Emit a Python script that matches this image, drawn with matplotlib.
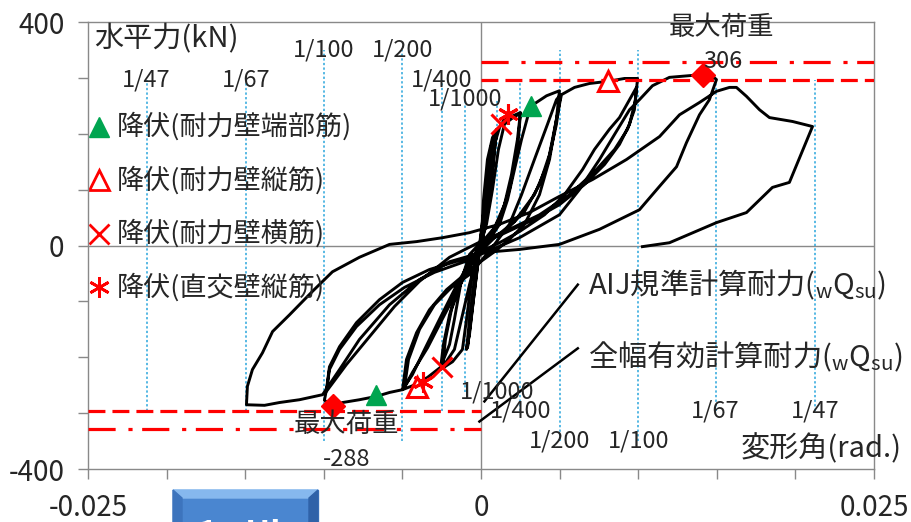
import numpy as np
import matplotlib
matplotlib.use('Agg')
import matplotlib.pyplot as plt
from matplotlib.patches import Rectangle, Polygon

plt.rcParams['font.family'] = ['Noto Sans CJK JP', 'DejaVu Sans']
plt.rcParams['mathtext.fontset'] = 'custom'
plt.rcParams['mathtext.rm'] = 'Noto Sans CJK JP'
plt.rcParams['mathtext.it'] = 'Noto Sans CJK JP'
plt.rcParams['mathtext.bf'] = 'Noto Sans CJK JP'
plt.rcParams['mathtext.default'] = 'regular'

# 変形角 (rad) / 水平力 (kN), loading history split by target drift
cyc1000_x = [0.0, 0.00016, 0.00041, 0.00073, 0.00099, 0.00080, 0.00048, 0.00016, -0.00016, -0.00048,
             -0.00073, -0.00092, -0.00073, -0.00041, -0.00016, 0.00010, 0.00035, 0.00067, 0.00099, 0.00073,
             0.00029, -0.00010, -0.00048, -0.00086, -0.00060, -0.00029]
cyc1000_y = [0, 82, 154, 193, 208, 154, 82, 20, -25, -97,
             -159, -186, -132, -61, -16, 38, 118, 181, 204, 136,
             55, -7, -97, -183, -115, -43]

cyc400_x = [0.00003, 0.00041, 0.00086, 0.00118, 0.00149, 0.00194, 0.00251, 0.00232, 0.00194, 0.00149,
            0.00086, 0.00022, -0.00022, -0.00060, -0.00092, -0.00118, -0.00181, -0.00258, -0.00239, -0.00200,
            -0.00149, -0.00099, -0.00041, -0.00003, 0.00035, 0.00073, 0.00111, 0.00149, 0.00213, 0.00251,
            0.00232, 0.00181, 0.00118, 0.00041, -0.00022, -0.00073, -0.00124, -0.00169, -0.00245]
cyc400_y = [29, 109, 181, 211, 226, 231, 238, 190, 127, 73,
            32, 11, -11, -61, -132, -186, -208, -222, -177, -124,
            -79, -43, -16, 2, 38, 100, 172, 217, 231, 236,
            172, 100, 47, 11, -16, -70, -132, -186, -218]

cyc200_x = [-0.00226, -0.00188, -0.00124, -0.00060, -0.00003, 0.00054, 0.00118, 0.00169, 0.00213, 0.00258,
            0.00315, 0.00417, 0.00499, 0.00480, 0.00436, 0.00372, 0.00277, 0.00149, 0.00022, -0.00073,
            -0.00169, -0.00264, -0.00359, -0.00436, -0.00499, -0.00474, -0.00410, -0.00328, -0.00219, -0.00118,
            -0.00003, 0.00086, 0.00181, 0.00258, 0.00340, 0.00423, 0.00480, 0.00506, 0.00480, 0.00423,
            0.00340, 0.00213, 0.00086, -0.00022, -0.00124, -0.00232, -0.00340, -0.00436, -0.00487, -0.00461,
            -0.00391, -0.00296, -0.00188, -0.00073]
cyc200_y = [-168, -115, -64, -29, -7, 11, 38, 82, 136, 190,
            249, 268, 277, 226, 163, 109, 61, 25, 4, -29,
            -79, -132, -186, -231, -258, -204, -156, -115, -79, -55,
            -29, 2, 38, 91, 154, 217, 261, 270, 217, 145,
            91, 43, 14, -16, -66, -124, -183, -227, -254, -204,
            -150, -106, -75, -52]

cyc100a_x = [-0.00003, 0.00086, 0.00181, 0.00277, 0.00372, 0.00436, 0.00480, 0.00512, 0.00595, 0.00690,
             0.00811, 0.00913, 0.00996, 0.00983, 0.00945, 0.00881, 0.00786, 0.00658, 0.00499, 0.00308,
             0.00118, -0.00003, -0.00073, -0.00124, -0.00169, -0.00200, -0.00258, -0.00340, -0.00436, -0.00499,
             -0.00582, -0.00665, -0.00773, -0.00881, -0.00940, -0.00996, -0.00983, -0.00964, -0.00900, -0.00792,
             -0.00646, -0.00499, -0.00328, -0.00118, -0.00003]
cyc100a_y = [-29, -11, 11, 38, 91, 154, 226, 270, 283, 290,
             294, 299, 299, 261, 217, 181, 145, 109, 73, 43,
             18, 5, -16, -61, -132, -177, -218, -236, -251, -258,
             -263, -270, -276, -281, -288, -277, -258, -217, -181, -138,
             -97, -66, -43, -25, -11]

cyc100b_x = [0.00118, 0.00245, 0.00404, 0.00531, 0.00646, 0.00722, 0.00817, 0.00881, 0.00945, 0.00989,
             0.00976, 0.00932, 0.00850, 0.00722, 0.00563, 0.00372, 0.00181, -0.00003, -0.00200, -0.00391,
             -0.00550, -0.00709, -0.00856, -0.00983, -0.00964, -0.00900, -0.00792, -0.00646, -0.00487, -0.00296,
             -0.00105, -0.00003]
cyc100b_y = [5, 25, 55, 91, 136, 172, 208, 229, 261, 283,
             243, 208, 172, 132, 91, 55, 29, 7, -21, -64,
             -109, -163, -213, -261, -222, -186, -145, -106, -75, -48,
             -29, -16]

cyc67_x = [0.00245, 0.00499, 0.00626, 0.00754, 0.00850, 0.00945, 0.01008, 0.01091, 0.01199, 0.01326,
           0.01409, 0.01473, 0.01498, 0.01453, 0.01390, 0.01307, 0.01244, 0.01136, 0.01008, 0.00754,
           0.00499, 0.00245, -0.00003, -0.00200, -0.00391, -0.00582, -0.00773, -0.00900, -0.01008, -0.01155,
           -0.01282, -0.01377, -0.01492]
cyc67_y = [14, 55, 100, 154, 199, 243, 261, 286, 301, 304,
           306, 303, 297, 261, 234, 184, 141, 106, 64, 29,
           2, -7, -13, -29, -61, -106, -168, -222, -267, -276,
           -281, -286, -285]

cyc47_x = [-0.01486, -0.01454, -0.01390, -0.01326, -0.01218, -0.01072, -0.00945, -0.00773, -0.00582, -0.00410,
           -0.00245, -0.00073, 0.00118, 0.00308, 0.00499, 0.00709, 0.00926, 0.01136, 0.01263, 0.01390,
           0.01498, 0.01581, 0.01625, 0.01689, 0.01772, 0.01835, 0.01982, 0.02109, 0.01962, 0.01854,
           0.01689, 0.01498, 0.01199, 0.01027]
cyc47_y = [-252, -222, -192, -154, -124, -82, -47, -21, 2, 7,
           14, 23, 38, 59, 88, 118, 154, 195, 234, 256,
           276, 283, 283, 267, 243, 229, 222, 213, 113, 104,
           59, 41, 5, -2]

# 降伏・最大荷重の点 (正側, 負側)
yield_end_x, yield_end_y = [0.00315, -0.00665], [249, -267]
yield_vert_x, yield_vert_y = [0.00810, -0.00410], [294, -254]
yield_hor_x, yield_hor_y = [0.00130, -0.00245], [218, -218]
yield_orth_x, yield_orth_y = [0.00170, -0.00372], [236, -245]
peak_x, peak_y = [0.01410, -0.00940], [306, -288]

# 計算耐力
q_aij = 296
q_full = 329

# 変形角の目安線
ratio_den = [1000, 400, 200, 100, 67, 47]
ratio_span = [262, 297, 350, 350, 297, 297]

legend_labels = ['降伏(耐力壁端部筋)', '降伏(耐力壁縦筋)', '降伏(耐力壁横筋)', '降伏(直交壁縦筋)']

drift = np.concatenate([cyc1000_x, cyc400_x, cyc200_x, cyc100a_x, cyc100b_x, cyc67_x, cyc47_x])
load = np.concatenate([cyc1000_y, cyc400_y, cyc200_y, cyc100a_y, cyc100b_y, cyc67_y, cyc47_y])

fig = plt.figure(figsize=(9.12, 5.22), dpi=100)
ax = fig.add_axes([0.0965, 0.1015, 0.8618, 0.8563])
ax.set_xlim(-0.025, 0.025)
ax.set_ylim(-400, 400)

grey = '#898989'
blue = '#2aa6dc'
red = '#ff0000'
txt = '#262626'

for sp in ax.spines.values():
    sp.set_color(grey)
    sp.set_linewidth(1.0)
ax.axhline(0, color=grey, lw=1.0, zorder=1)
ax.axvline(0, color=grey, lw=1.0, zorder=1)

ax.set_xticks([-0.025, 0, 0.025])
ax.set_xticklabels(['-0.025', '0', '0.025'])
ax.set_xticks(np.arange(-0.025, 0.0251, 0.005), minor=True)
ax.set_yticks([-400, 0, 400])
ax.set_yticklabels(['-400', '0', '400'])
ax.set_yticks(np.arange(-400, 401, 100), minor=True)
ax.tick_params(which='both', direction='out', length=7, width=1.0, color=grey)
ax.tick_params(axis='x', which='major', labelsize=20, pad=10, labelcolor=txt)
ax.tick_params(axis='y', which='major', labelsize=20, pad=10, labelcolor=txt)

# drift angle guides
for d, s in zip(ratio_den, ratio_span):
    r = 1.0 / d
    ax.plot([r, r], [-s, s], ls=(0, (1.5, 1.5)), color=blue, lw=1.1, zorder=1)
    ax.plot([-r, -r], [-s, s], ls=(0, (1.5, 1.5)), color=blue, lw=1.1, zorder=1)
    ax.text(-r, s, f'1/{d}', ha='center', va='center', fontsize=17, color=txt, zorder=6)
    ax.text(r, -s, f'1/{d}', ha='center', va='center', fontsize=17, color=txt, zorder=6)

ax.plot(drift, load, color='black', lw=2.1, solid_joinstyle='round', zorder=3)

# computed strengths
ax.plot([0, 0.025], [q_aij, q_aij], color=red, lw=2.3, ls=(0, (5.3, 2.2)), zorder=4)
ax.plot([-0.025, 0], [-q_aij, -q_aij], color=red, lw=2.3, ls=(0, (5.3, 2.2)), zorder=4)
ax.plot([0, 0.025], [q_full, q_full], color=red, lw=2.3, ls=(0, (8.5, 4, 1.3, 3)), zorder=4)
ax.plot([-0.025, 0], [-q_full, -q_full], color=red, lw=2.3, ls=(0, (8.5, 4, 1.3, 3)), zorder=4)

ax.plot(yield_end_x, yield_end_y, ls='none', marker='^', ms=15, color='#00a550', zorder=5)
ax.plot(yield_vert_x, yield_vert_y, ls='none', marker='^', ms=14, mfc='white', mec=red, mew=2.2, zorder=5)
ax.plot(yield_hor_x, yield_hor_y, ls='none', marker='x', ms=14, mec=red, mew=2.2, zorder=5)
ax.plot(yield_orth_x, yield_orth_y, ls='none', marker=(6, 2, 0), ms=15, mec=red, mew=2.2, zorder=5)
ax.plot(peak_x, peak_y, ls='none', marker='D', ms=12, color=red, zorder=5)

ax.text(0.0153, 390, '最大荷重', ha='center', va='center', fontsize=19, color=txt, zorder=6)
ax.text(0.0154, 329, f'{peak_y[0]}', ha='center', va='center', fontsize=17, color=txt, zorder=6)
ax.text(-0.00856, -320, '最大荷重', ha='center', va='center', fontsize=19, color=txt, zorder=6)
ax.text(-0.00856, -383, f'{peak_y[1]}', ha='center', va='center', fontsize=17, color=txt, zorder=6)

ax.text(-0.02459, 369, '水平力(kN)', ha='left', va='center', fontsize=21, color=txt)
ax.text(0.02675, -365, '変形角(rad.)', ha='right', va='center', fontsize=21, color=txt, clip_on=False)

# strength annotations with leader lines
ax.plot([0.00616, 0.00022], [-70, -279], color='black', lw=1.8, zorder=4)
ax.plot([0.00616, -0.0001], [-184, -315], color='black', lw=1.8, zorder=4)
ax.text(0.0068, -70, r'AIJ規準計算耐力($_{w}$Q$_{su}$)', ha='left', va='center', fontsize=21, color=txt)
ax.text(0.0068, -199, r'全幅有効計算耐力($_{w}$Q$_{su}$)', ha='left', va='center', fontsize=21, color=txt)

# legend
leg_x, leg_tx = -0.02427, -0.02319
leg_y = [213, 117, 21, -75]
ax.plot(leg_x, leg_y[0], marker='^', ms=15, color='#00a550')
ax.plot(leg_x, leg_y[1], marker='^', ms=14, mfc='white', mec=red, mew=2.0)
ax.plot(leg_x, leg_y[2], marker='x', ms=14, mec=red, mew=2.0)
ax.plot(leg_x, leg_y[3], marker=(6, 2, 0), ms=15, mec=red, mew=2.0)
for yy, lab in zip(leg_y, legend_labels):
    ax.text(leg_tx, yy, lab, ha='left', va='center', fontsize=19.5, color=txt)

# partially visible button below the plot
W, H = 912.0, 522.0
def fx(p):
    return p / W
def fy(p):
    return (H - p) / H
fig.patches.append(Rectangle((fx(173), fy(530)), fx(318) - fx(173), fy(490) - fy(530),
                             transform=fig.transFigure, color='#4a86d0', zorder=0))
fig.patches.append(Polygon([(fx(173), fy(490)), (fx(318), fy(490)), (fx(309), fy(498)), (fx(182), fy(498))],
                           closed=True, transform=fig.transFigure, color='#86b8ee', zorder=1))
fig.patches.append(Polygon([(fx(173), fy(490)), (fx(182), fy(498)), (fx(182), fy(530)), (fx(173), fy(530))],
                           closed=True, transform=fig.transFigure, color='#3d74bd', zorder=1))
fig.patches.append(Polygon([(fx(318), fy(490)), (fx(309), fy(498)), (fx(309), fy(530)), (fx(318), fy(530))],
                           closed=True, transform=fig.transFigure, color='#2f62a8', zorder=1))
fig.text(fx(198), fy(519), '1 aHl', color='white', fontsize=24, fontweight='bold', ha='left', va='top')

fig.savefig('out.png', dpi=100)
